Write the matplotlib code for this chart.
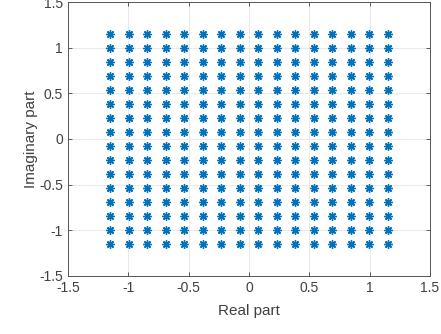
import numpy as np
import matplotlib
matplotlib.use("Agg")
import matplotlib.pyplot as plt

# 256-QAM levels (normalized to unit average power)
levels = [-1.1504, -0.9971, -0.8437, -0.6903, -0.5369, -0.3835, -0.2301, -0.0767,
          0.0767, 0.2301, 0.3835, 0.5369, 0.6903, 0.8437, 0.9971, 1.1504]
ticks = [-1.5, -1, -0.5, 0, 0.5, 1, 1.5]
tick_labels = ["-1.5", "-1", "-0.5", "0", "0.5", "1", "1.5"]

plt.rcParams['font.family'] = ['Liberation Sans', 'DejaVu Sans']

I, Q = np.meshgrid(levels, levels)

fig = plt.figure(figsize=(4.41, 3.34), dpi=100)
ax = fig.add_axes([0.154, 0.174, 0.821, 0.820])
ax.plot(I.ravel(), Q.ravel(), linestyle='none', marker=(8, 2, 0),
        markersize=6, markeredgewidth=1.0, color='#0072BD')

ax.set_xlim(-1.5, 1.5)
ax.set_ylim(-1.5, 1.5)
ax.set_xticks(ticks)
ax.set_xticklabels(tick_labels)
ax.set_yticks(ticks)
ax.set_yticklabels(tick_labels)
ax.grid(True, color='#e6e6e6', linewidth=0.6)
ax.set_axisbelow(True)
ax.tick_params(direction='in', top=True, right=True, length=3, width=0.6,
               colors='#404040', labelsize=10)
for s in ax.spines.values():
    s.set_color('#555555')
    s.set_linewidth(0.7)
ax.set_xlabel('Real part', fontsize=11, color='#404040', labelpad=7)
ax.set_ylabel('Imaginary part', fontsize=11, color='#404040', labelpad=1)

fig.savefig('out.png', dpi=100)
